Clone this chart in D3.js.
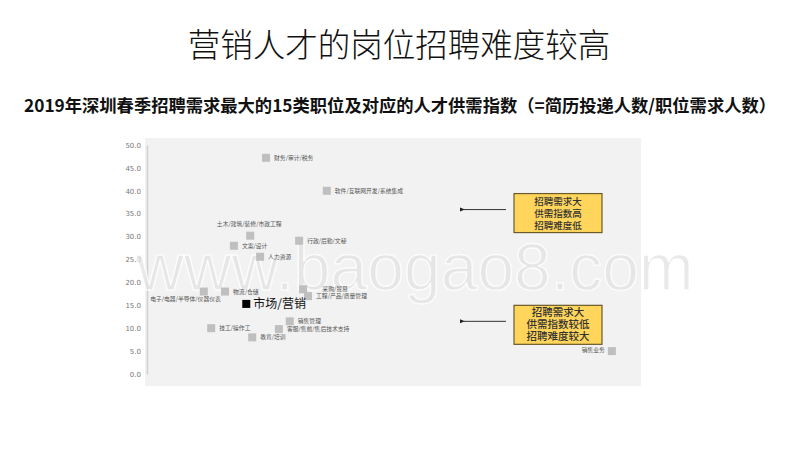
<!DOCTYPE html>
<html><head><meta charset="utf-8">
<script src="https://cdn.jsdelivr.net/npm/d3@7"></script>
<style>body{margin:0;background:#fff}svg{display:block}</style>
</head><body><svg id="c" width="800" height="450"></svg>
<script>
const categories = ["财务/审计/税务","软件/互联网开发/系统集成","土木/建筑/装修/市政工程","文案/设计","行政/后勤/文秘","人力资源","物流/仓储","电子/电器/半导体/仪器仪表","采购/贸易","工程/产品/质量管理","市场/营销","销售管理","技工/操作工","客服/售前/售后技术支持","教育/培训","销售业务"];
const demand = [24.3,36.6,21.1,17.8,31.0,23.1,16.0,11.7,31.8,32.8,20.3,29.1,13.2,26.9,21.5,94.3];
const supplyIndex = [47.2,40.0,30.2,28.0,29.1,25.6,18.0,18.0,18.5,17.0,15.3,11.5,10.0,9.8,8.0,5.0];
const labelPos = ["r","r","t","r","r","r","r","bl","tr","r","r","r","r","r","r","l"];
const yTicks = [0,5,10,15,20,25,30,35,40,45,50];
const notes = [["招聘需求大","供需指数高","招聘难度低"],["招聘需求大","供需指数较低","招聘难度较大"]];
const noteLevels = [35.9, 11.5];

const svg = d3.select("#c");
const font = "'Noto Sans CJK SC','Noto Sans',sans-serif";

svg.append("text").attr("x",399).attr("y",57).attr("text-anchor","middle")
  .attr("font-family",font).attr("font-weight",300).attr("font-size",32.5).attr("fill","#111")
  .text("营销人才的岗位招聘难度较高");
svg.append("text").attr("x",400).attr("y",112).attr("text-anchor","middle")
  .attr("font-family",font).attr("font-weight",700).attr("font-size",17.3).attr("fill","#111")
  .text("2019年深圳春季招聘需求最大的15类职位及对应的人才供需指数（=简历投递人数/职位需求人数）");

const x = d3.scaleLinear().domain([0,100]).range([146,640]);
const y = d3.scaleLinear().domain([0,50]).range([374,145]);

svg.append("rect").attr("x",145).attr("y",138).attr("width",496).attr("height",248).attr("fill","#f2f2f2");

const ya = svg.append("g").attr("transform","translate(147,0)")
  .call(d3.axisLeft(y).tickValues(yTicks).tickFormat(d3.format(".1f")).tickSize(0).tickPadding(6));
ya.select(".domain").attr("stroke","#d0d0d0").attr("stroke-width",1.5);
ya.selectAll("text").attr("font-family","'DejaVu Sans',sans-serif").attr("font-size",7).attr("fill","#777");

// watermark
svg.append("text").attr("x",415).attr("y",290).attr("text-anchor","middle")
  .attr("font-family","'Liberation Sans',Arial,sans-serif").attr("font-size",66)
  .attr("fill","#e2e2e2").attr("stroke","#ffffff").attr("stroke-width",1.5).attr("opacity",0.75)
  .text("www.baogao8.com");

const pts = svg.append("g");
categories.forEach((c,i)=>{
  const cx = x(demand[i]), cy = y(supplyIndex[i]);
  const main = c === "市场/营销";
  const s = main ? 8 : 8;
  pts.append("rect").attr("x",cx-s/2).attr("y",cy-s/2).attr("width",s).attr("height",s)
    .attr("fill", main ? "#000" : "#bfbfbf");
  const t = pts.append("text").attr("font-family",font)
    .attr("font-size", main ? 12 : 5.8).attr("fill", main ? "#111" : "#555").text(c);
  const p = labelPos[i];
  if (main) { t.attr("x",cx+7).attr("y",cy+4.5); }
  else if (p==="r") t.attr("x",cx+8).attr("y",cy+2);
  else if (p==="l") t.attr("x",cx-7).attr("y",cy+1).attr("text-anchor","end");
  else if (p==="t") t.attr("x",cx-1).attr("y",cy-10).attr("text-anchor","middle");
  else if (p==="bl") t.attr("x",cx+17).attr("y",cy+9).attr("text-anchor","end");
  else if (p==="tr") t.attr("x",cx+32).attr("y",cy+2).attr("text-anchor","middle");
});

// arrows and notes
svg.append("defs").append("marker").attr("id","ah").attr("viewBox","0 0 10 10")
  .attr("refX",2).attr("refY",5).attr("markerWidth",5).attr("markerHeight",5).attr("orient","auto")
  .append("path").attr("d","M10,1 L0,5 L10,9 Z").attr("fill","#222");
notes.forEach((lines,k)=>{
  const cy = y(noteLevels[k]);
  svg.append("line").attr("x1",506).attr("x2",464).attr("y1",cy).attr("y2",cy)
    .attr("stroke","#333").attr("stroke-width",1).attr("marker-end","url(#ah)");
  svg.append("rect").attr("x",514).attr("y",cy-16).attr("width",88).attr("height",39)
    .attr("fill","#ffd55c").attr("stroke","#6b5a2a").attr("stroke-width",1.2);
  const fs = k===0 ? 9.5 : 10.5;
  lines.forEach((l,j)=>{
    svg.append("text").attr("x",558).attr("y",cy-5+j*12).attr("text-anchor","middle")
      .attr("font-family",font).attr("font-weight",500).attr("font-size",fs).attr("fill","#333").text(l);
  });
});
</script></body></html>
